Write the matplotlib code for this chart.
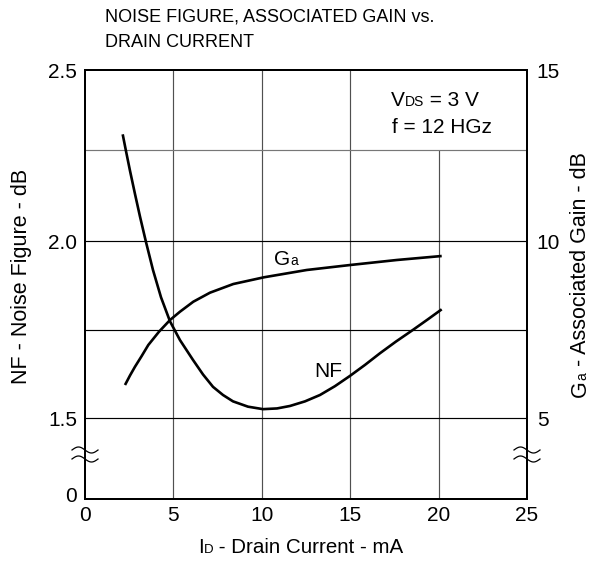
import numpy as np
import matplotlib
matplotlib.use("Agg")
import matplotlib.pyplot as plt
import matplotlib.transforms as mtransforms

plt.rcParams['font.family'] = ['Liberation Sans', 'DejaVu Sans']

# ---- data ----
nf_current = [2.132, 2.319, 2.545, 2.828, 3.111, 3.450, 3.846, 4.299, 4.808, 5.373, 6.109, 6.674,
              7.240, 7.805, 8.371, 9.219, 10.068, 10.860, 11.595, 12.443, 13.292, 14.140, 14.989,
              15.837, 16.686, 17.590, 18.552, 19.400, 20.175]
nf_values = [2.299, 2.247, 2.193, 2.129, 2.067, 1.997, 1.918, 1.841, 1.773, 1.720, 1.664, 1.623,
             1.588, 1.565, 1.547, 1.532, 1.525, 1.527, 1.534, 1.547, 1.565, 1.590, 1.619,
             1.650, 1.683, 1.716, 1.749, 1.779, 1.807]

ga_current = [2.262, 2.545, 2.828, 3.196, 3.580, 4.186, 4.808, 5.373, 6.126, 7.070, 8.388, 10.124,
              12.540, 15.0, 17.630, 20.175]
ga_values = [5.932, 6.201, 6.449, 6.743, 7.062, 7.438, 7.768, 8.003, 8.285, 8.540, 8.785, 8.975,
             9.181, 9.322, 9.463, 9.576]

x_ticks = [0, 5, 10, 15, 20, 25]
nf_ticks = [0, 1.5, 2.0, 2.5]
nf_tick_labels = ["0", "1.5", "2.0", "2.5"]
ga_ticks = [5, 10, 15]
ga_tick_labels = ["5", "10", "15"]

# broken-axis scale (value -> position)
nf_breaks = [0.0, 1.5, 2.0, 2.25, 2.5]
pos_breaks = [0.0, 81.0, 258.0, 349.0, 429.0]
ga_breaks = [-10.0, 5.0, 10.0, 12.5, 15.0]


def nf_fwd(v):
    return np.interp(v, nf_breaks, pos_breaks)


def nf_inv(p):
    return np.interp(p, pos_breaks, nf_breaks)


def ga_fwd(v):
    return np.interp(v, ga_breaks, pos_breaks)


def ga_inv(p):
    return np.interp(p, pos_breaks, ga_breaks)


W, H = 602, 561
fig = plt.figure(figsize=(W / 100, H / 100), dpi=100)
ax = fig.add_axes([85 / W, 62 / H, 442 / W, 429 / H])
ax.set_yscale('function', functions=(nf_fwd, nf_inv))
ax.set_xlim(0, 25)
ax.set_ylim(0, 2.5)

ax2 = ax.twinx()
ax2.set_yscale('function', functions=(ga_fwd, ga_inv))
ax2.set_ylim(-10, 15)

FS = 15
SUB = 10
ax.set_xticks(x_ticks)
ax.set_xticklabels([str(t) for t in x_ticks])
ax.set_yticks(nf_ticks)
ax.set_yticklabels(nf_tick_labels)
ax.minorticks_off()
ax2.set_yticks(ga_ticks)
ax2.set_yticklabels(ga_tick_labels)
ax2.minorticks_off()
ax.tick_params(axis='x', length=0, pad=5, labelsize=FS)
ax.tick_params(axis='y', length=0, pad=5.5, labelsize=FS)
ax2.tick_params(length=0, pad=7, labelsize=FS)

# lift the "0" label slightly, as in the reference
lab0 = ax.get_yticklabels()[0]
lab0.set_transform(lab0.get_transform() + mtransforms.ScaledTranslation(0, 5 / 100, fig.dpi_scale_trans))

for a in (ax, ax2):
    for s in a.spines.values():
        s.set_linewidth(1.4)
        s.set_color('black')

# grid
vcol = '#505050'
for xv in [5, 10, 15]:
    ax.axvline(xv, color=vcol, lw=0.85, zorder=1)
ax.vlines(20, 0, 2.25, color=vcol, lw=0.85, zorder=1)
for yv in [1.5, 1.75, 2.0]:
    ax.axhline(yv, color='black', lw=0.85, zorder=1)
ax.axhline(2.25, color='#777777', lw=0.85, zorder=1)

# curves
ax.plot(nf_current, nf_values, color='black', lw=1.9, zorder=3, solid_capstyle='butt',
        solid_joinstyle='round')
ax2.plot(ga_current, ga_values, color='black', lw=1.9, zorder=3, solid_capstyle='butt',
         solid_joinstyle='round')

# break marks on both spines
t = np.linspace(0, 1, 40)
hw = 13 / 442
amp = 3.0 / 429
for xa in (0.0, 1.0):
    ax.plot([xa, xa], [41 / 429, 48 / 429], transform=ax.transAxes, color='white', lw=3,
            clip_on=False, zorder=5)
    for yc in (40 / 429, 49 / 429):
        ax.plot(xa - hw + 2 * hw * t, yc + amp * np.sin(2 * np.pi * t), transform=ax.transAxes,
                color='black', lw=0.9, clip_on=False, zorder=6)

# in-plot labels (subscripts sit on the baseline, as in the reference)
g_y = 9.322
g = ax2.text(10.69, g_y, "G", fontsize=FS, ha='left', va='baseline')
ax2.annotate("a", xy=(1, g_y), xycoords=(g, 'data'), fontsize=SUB, ha='left', va='baseline')
ax.text(12.95, 1.616, "NF", fontsize=FS, ha='left', va='baseline')

xt = ax.get_xaxis_transform()
v_y = (499 - 106) / 429
v = ax.text(17.3, v_y, "V", transform=xt, fontsize=FS, ha='left', va='baseline')
ds = ax.annotate("DS", xy=(1, v_y), xycoords=(v, xt), fontsize=SUB, ha='left', va='baseline')
ax.annotate(" = 3 V", xy=(1, v_y), xycoords=(ds, xt), fontsize=FS, ha='left', va='baseline')
ax.text(17.35, (499 - 133) / 429, "f = 12 HGz", transform=xt, fontsize=FS, ha='left',
        va='baseline')

# title
fig.text(105 / W, 1 - 21 / H, "NOISE FIGURE, ASSOCIATED GAIN vs.", fontsize=13, ha='left',
         va='baseline')
fig.text(105 / W, 1 - 47 / H, "DRAIN CURRENT", fontsize=13, ha='left', va='baseline')

# axis labels
LFS = 15.5
fig.text(22 / W, 1 - 276 / H, "NF - Noise Figure - dB", fontsize=LFS, rotation=90,
         ha='center', va='center')

XFS = 14.8
xl_y = 1 - 553 / H
i_ = fig.text(198 / W, xl_y, "I", fontsize=XFS, ha='left', va='baseline')
dl = ax.annotate("D", xy=(1, xl_y), xycoords=(i_, fig.transFigure), fontsize=SUB - 0.5,
                 ha='left', va='baseline', annotation_clip=False)
ax.annotate(" - Drain Current - mA", xy=(1, xl_y), xycoords=(dl, fig.transFigure),
            fontsize=XFS, ha='left', va='baseline', annotation_clip=False)

gx = 586 / W
gr = fig.text(gx, 1 - 397 / H, "G", fontsize=LFS, rotation=90, rotation_mode='anchor',
              ha='left', va='baseline')
ar = ax.annotate("a", xy=(gx, 1), xycoords=(fig.transFigure, gr), fontsize=SUB, rotation=90,
                 rotation_mode='anchor', ha='left', va='baseline', annotation_clip=False)
ax.annotate(" - Associated Gain - dB", xy=(gx, 1), xycoords=(fig.transFigure, ar), fontsize=LFS,
            rotation=90, rotation_mode='anchor', ha='left', va='baseline', annotation_clip=False)

fig.savefig("out.png", dpi=100)
